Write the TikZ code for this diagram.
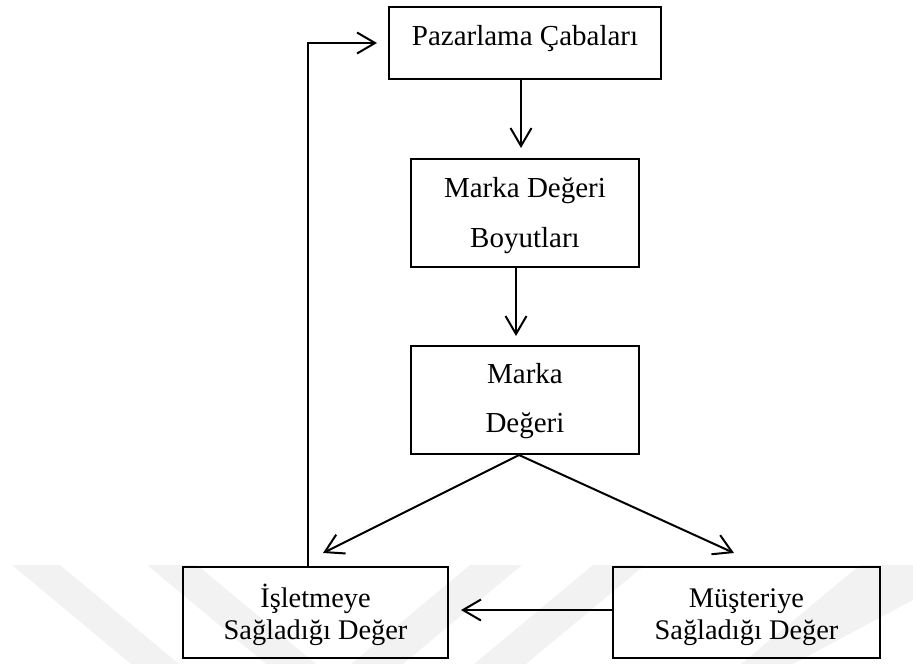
\documentclass[tikz,border=0pt]{standalone}
\usepackage{fontspec}
\setmainfont{Liberation Serif}
\usetikzlibrary{arrows.meta}

\tikzset{
  box/.style={draw=black, line width=2pt, rectangle, inner sep=0pt},
  lbl/.style={inner sep=0pt, anchor=base, font=\fontsize{29}{35}\selectfont},
  lblsm/.style={inner sep=0pt, anchor=base, font=\fontsize{28.4}{34}\selectfont},
  arr/.style={line width=2pt, -{Straight Barb[length=18pt, width=21pt, line width=2pt]}},
  band/.style={fill=black!5, draw=none},
}

\begin{document}
\begin{tikzpicture}[x=1pt, y=-1pt]
\useasboundingbox (0,0) rectangle (913,664);

% faint background emblem along the bottom edge
\begin{scope}
  \clip (0,565) rectangle (913,664);
  \fill[band] (12,565) -- (60,565) -- (179,664) -- (131,664) -- cycle;
  \fill[band] (147,565) -- (197,565) -- (316,664) -- (266,664) -- cycle;
  \fill[band] (470,565) -- (522,565) -- (403,664) -- (351,664) -- cycle;
  \fill[band] (593,565) -- (645,565) -- (526,664) -- (474,664) -- cycle;
  \fill[band] (860,565) -- (913,565) -- (913,600) -- (793,664) -- (741,664) -- cycle;
\end{scope}

% boxes
\node[box, minimum width=272pt, minimum height=72pt]  (pz) at (525,43) {};
\node[box, minimum width=228pt, minimum height=108pt] (mb) at (525,213) {};
\node[box, minimum width=228pt, minimum height=108pt] (mk) at (525,400) {};
\node[box, minimum width=265pt, minimum height=91pt]  (il) at (315.5,612.5) {};
\node[box, minimum width=267pt, minimum height=91pt]  (ms) at (746.5,612.5) {};

% texts
\node[lbl] (pzt)  at (525,45)  {Pazarlama Çabaları};
\node[lbl] (mbt1) at (525,197) {Marka Değeri};
\node[lbl] (mbt2) at (525,247) {Boyutları};
\node[lbl] (mkt1) at (525,383) {Marka};
\node[lbl] (mkt2) at (525,432) {Değeri};
\node[lblsm] (ilt1) at (315.5,607) {İşletmeye};
\node[lblsm] (ilt2) at (315.5,639) {Sağladığı Değer};
\node[lblsm] (mst1) at (746.5,607) {Müşteriye};
\node[lblsm] (mst2) at (746.5,639) {Sağladığı Değer};

% connectors
\draw[arr] ([xshift=-4pt]pz.south) -- ([xshift=-4pt, yshift=10pt]mb.north);
\draw[arr] ([xshift=-9pt]mb.south) -- ([xshift=-9pt, yshift=9pt]mk.north);
\draw[arr] ([xshift=-6pt]mk.south) -- ([xshift=7.5pt, yshift=13pt]il.north);
\draw[arr] ([xshift=-6pt]mk.south) -- ([xshift=-12.5pt, yshift=13pt]ms.north);
\draw[arr] ([yshift=2.5pt]ms.west) -- ([xshift=12pt, yshift=2.5pt]il.east);
\draw[arr] ([xshift=-8pt]il.north) |- ([xshift=-11pt]pz.west);
\end{tikzpicture}
\end{document}
